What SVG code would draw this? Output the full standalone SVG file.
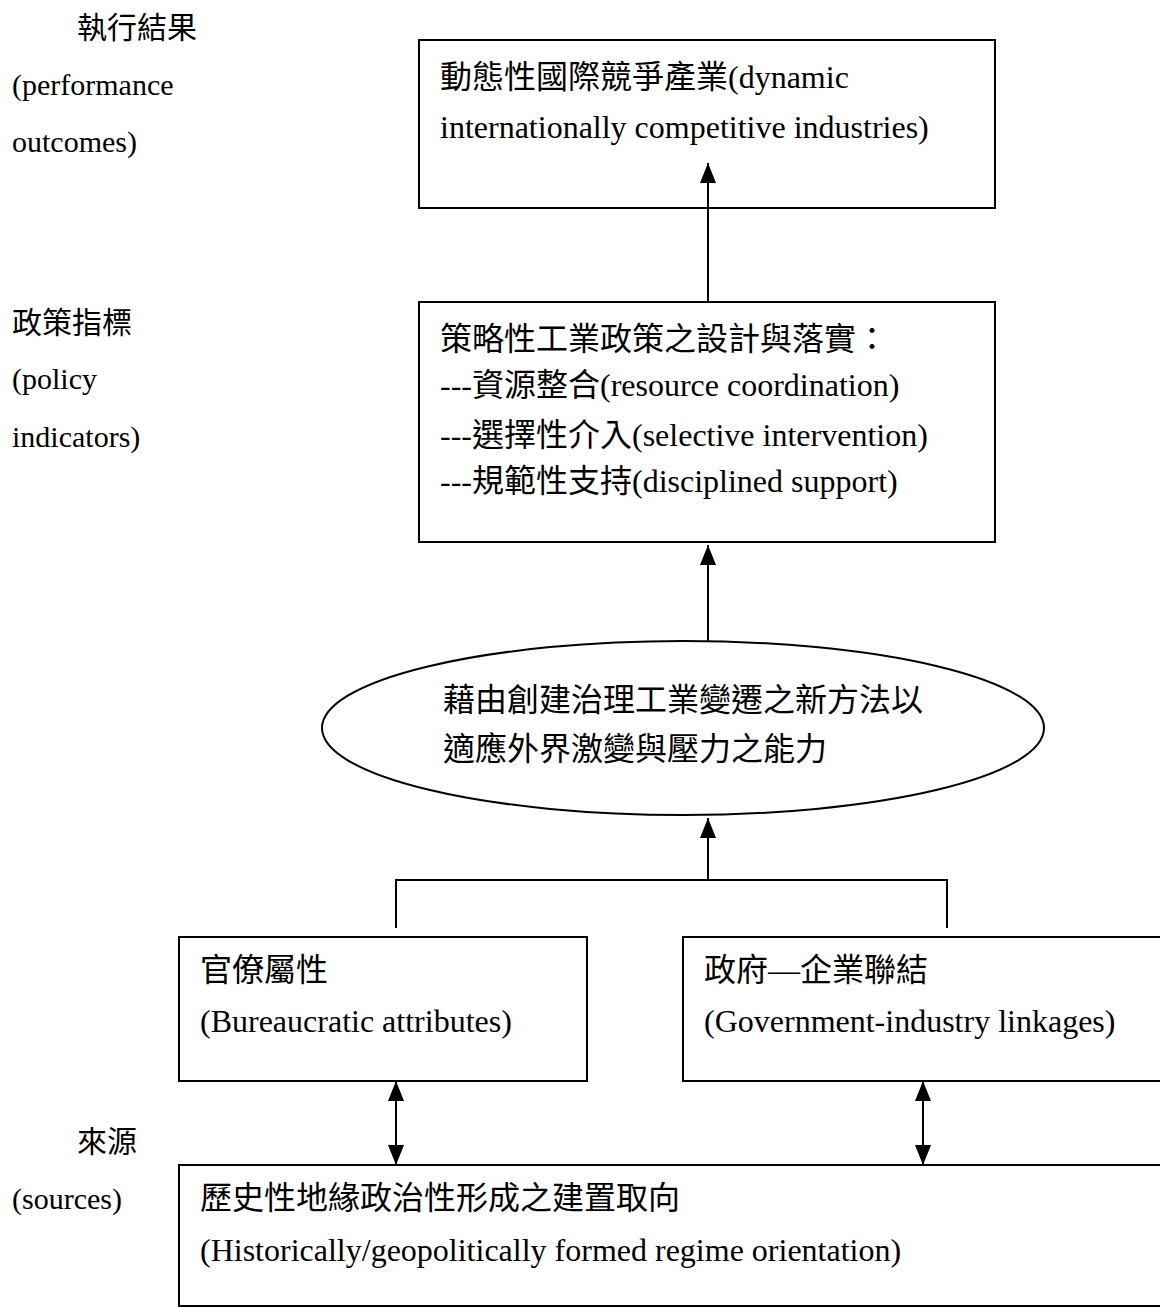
<svg xmlns="http://www.w3.org/2000/svg" width="1160" height="1307" viewBox="0 0 1160 1307">
<style>
text{font-family:"Liberation Serif","Noto Sans CJK TC",serif;fill:#000}
.b{font-size:32px}
.l{font-size:30px}
.box{fill:#fff;stroke:#000;stroke-width:2}
.con{fill:none;stroke:#000;stroke-width:2}
</style>
<defs>
<marker id="ah" markerUnits="userSpaceOnUse" markerWidth="20" markerHeight="16" refX="20" refY="8" orient="auto-start-reverse">
<path d="M0,0 L20,8 L0,16 z" fill="#000"/>
</marker>
</defs>
<rect width="1160" height="1307" fill="#fff"/>
<g id="labels">
<text class="l" x="77" y="38">執行結果</text>
<text class="l" x="12" y="95">(performance</text>
<text class="l" x="12" y="152">outcomes)</text>
<text class="l" x="12" y="333">政策指標</text>
<text class="l" x="12" y="389">(policy</text>
<text class="l" x="12" y="447">indicators)</text>
<text class="l" x="77" y="1152">來源</text>
<text class="l" x="12" y="1209">(sources)</text>
</g>
<g id="outcome">
<rect class="box" x="419" y="40" width="576" height="168"/>
<text class="b" x="440" y="88">動態性國際競爭產業(dynamic</text>
<text class="b" x="440" y="138">internationally competitive industries)</text>
</g>
<g id="policy">
<rect class="box" x="419" y="302" width="576" height="240"/>
<text class="b" x="440" y="350">策略性工業政策之設計與落實：</text>
<text class="b" x="440" y="396">---資源整合(resource coordination)</text>
<text class="b" x="440" y="446">---選擇性介入(selective intervention)</text>
<text class="b" x="440" y="492">---規範性支持(disciplined support)</text>
</g>
<g id="capacity">
<ellipse class="box" cx="683" cy="728" rx="361" ry="87"/>
<text class="b" x="443" y="711">藉由創建治理工業變遷之新方法以</text>
<text class="b" x="443" y="760">適應外界激變與壓力之能力</text>
</g>
<g id="bureaucratic">
<rect class="box" x="179" y="937" width="408" height="144"/>
<text class="b" x="200" y="981">官僚屬性</text>
<text class="b" x="200" y="1032">(Bureaucratic attributes)</text>
</g>
<g id="linkages">
<rect class="box" x="683" y="937" width="490" height="144"/>
<text class="b" x="704" y="981">政府—企業聯結</text>
<text class="b" x="704" y="1032">(Government-industry linkages)</text>
</g>
<g id="regime">
<rect class="box" x="179" y="1165" width="994" height="141"/>
<text class="b" x="200" y="1209">歷史性地緣政治性形成之建置取向</text>
<text class="b" x="200" y="1261">(Historically/geopolitically formed regime orientation)</text>
</g>
<g id="connectors">
<line class="con" x1="708" y1="302" x2="708" y2="163" marker-end="url(#ah)"/>
<line class="con" x1="708" y1="641" x2="708" y2="545" marker-end="url(#ah)"/>
<line class="con" x1="708" y1="880" x2="708" y2="818" marker-end="url(#ah)"/>
<polyline class="con" points="396,928 396,880 947,880 947,928"/>
<line class="con" x1="396" y1="1081" x2="396" y2="1165" marker-start="url(#ah)" marker-end="url(#ah)"/>
<line class="con" x1="923" y1="1081" x2="923" y2="1165" marker-start="url(#ah)" marker-end="url(#ah)"/>
</g>
</svg>
